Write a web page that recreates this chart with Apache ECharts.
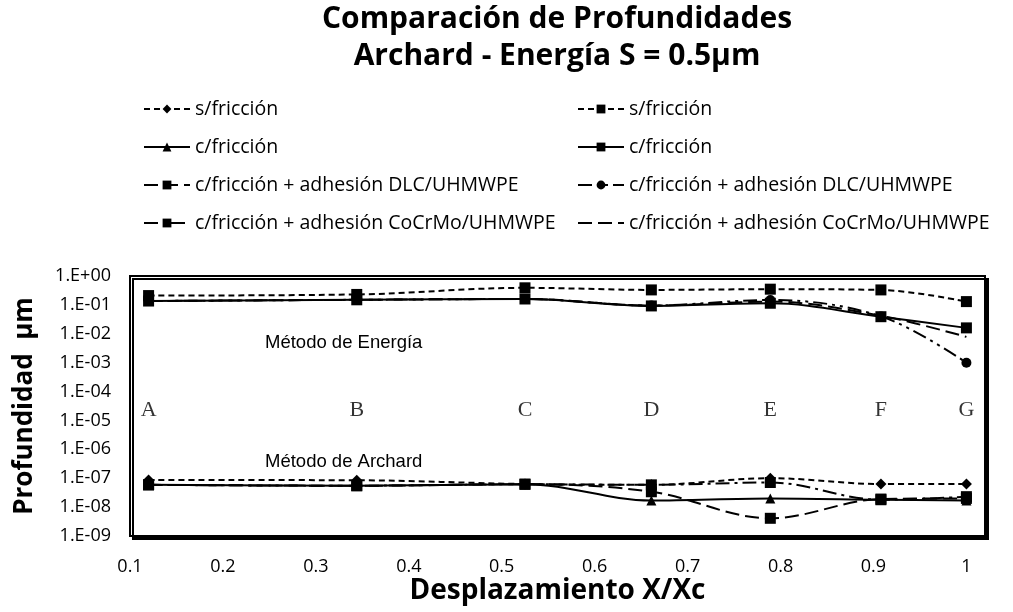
<!DOCTYPE html>
<html>
<head>
<meta charset="utf-8">
<script src="https://cdn.jsdelivr.net/npm/echarts@6/dist/echarts.min.js"></script>
<style>html,body{margin:0;padding:0;background:#fff}#c{width:1013px;height:612px}</style>
</head>
<body>
<div id="c"></div>
<script>
// Positions of the evaluation points along X/Xc
const xPoints = [0.12, 0.344, 0.525, 0.661, 0.789, 0.908, 1.0];
const pointLetters = ['A', 'B', 'C', 'D', 'E', 'F', 'G'];

// Método de Archard (µm)
const archardSinFriccion = [8.7e-8, 8.5e-8, 6.3e-8, 5.9e-8, 1.0e-7, 6.3e-8, 6.3e-8];
const archardConFriccion = [5.9e-8, 5.5e-8, 6.2e-8, 1.7e-8, 2.0e-8, 1.8e-8, 1.7e-8];
const archardDLC = [5.9e-8, 5.5e-8, 6.2e-8, 3.4e-8, 4.1e-9, 1.9e-8, 2.0e-8];
const archardCoCrMo = [5.9e-8, 5.5e-8, 6.2e-8, 5.9e-8, 7.1e-8, 1.8e-8, 2.3e-8];

// Método de Energía (µm)
const energiaSinFriccion = [0.21, 0.23, 0.39, 0.33, 0.35, 0.33, 0.13];
const energiaConFriccion = [0.136, 0.15, 0.16, 0.092, 0.114, 0.039, 0.016];
const energiaDLC = [0.136, 0.15, 0.16, 0.095, 0.148, 0.04, 0.001];
const energiaCoCrMo = [0.136, 0.15, 0.16, 0.095, 0.13, 0.042, 0.0078];

const legendLabels = ['s/fricción', 'c/fricción', 'c/fricción + adhesión DLC/UHMWPE', 'c/fricción + adhesión CoCrMo/UHMWPE'];

const calibri = '"Open Sans", Lato, sans-serif';
const pairs = arr => arr.map((v, i) => [xPoints[i], v]);

function mk(prefix, label, data, dash, symbol, size) {
  const hidden = symbol === 'none';
  return {
    name: prefix + '|' + label,
    type: 'line',
    data: pairs(data),
    smooth: 0.35,
    symbol: hidden ? 'circle' : symbol,
    symbolSize: hidden ? 1 : size,
    showSymbol: !hidden,
    lineStyle: { color: '#000', width: 2, type: dash },
    itemStyle: { color: hidden ? 'rgba(0,0,0,0)' : '#000' },
    z: 3
  };
}

const SHORT = [6, 4], LONG = [14, 6], LDD = [14, 5, 3, 5], LDDD = [14, 5, 3, 5, 3, 5];

const series = [
  mk('A', legendLabels[0], archardSinFriccion, SHORT, 'diamond', 11),
  mk('A', legendLabels[1], archardConFriccion, 'solid', 'triangle', 10),
  mk('A', legendLabels[2], archardDLC, LONG, 'rect', 11),
  mk('A', legendLabels[3], archardCoCrMo, LDD, 'rect', 11),
  mk('E', legendLabels[0], energiaSinFriccion, SHORT, 'rect', 11),
  mk('E', legendLabels[1], energiaConFriccion, 'solid', 'rect', 11),
  mk('E', legendLabels[2], energiaDLC, LDDD, 'circle', 10),
  mk('E', legendLabels[3], energiaCoCrMo, LONG, 'none', 0),
  {
    name: 'puntos', type: 'scatter', symbolSize: 0, silent: true,
    data: xPoints.map((x, i) => ({ value: [x, 2.3e-5], label: { formatter: pointLetters[i] } })),
    label: { show: true, position: 'inside', color: '#000', fontFamily: '"Liberation Serif", serif', fontSize: 22 }
  }
];

const legendCommon = {
  orient: 'vertical', top: 99, padding: 0, itemWidth: 46, itemHeight: 11, itemGap: 18,
  formatter: n => n.split('|')[1],
  textStyle: { fontFamily: calibri, fontSize: 19.5, color: '#000', lineHeight: 20 },
  selectedMode: false
};

const chart = echarts.init(document.getElementById('c'), null, { renderer: 'canvas' });
chart.setOption({
  animation: false,
  backgroundColor: '#fff',
  title: {
    text: 'Comparación de Profundidades\nArchard - Energía S = 0.5μm',
    left: 557, textAlign: 'center', top: 1, padding: 0,
    textStyle: { fontFamily: calibri, fontSize: 30, fontWeight: 'bold', color: '#000', lineHeight: 37 }
  },
  legend: [
    Object.assign({}, legendCommon, { left: 143, data: legendLabels.map(l => 'A|' + l) }),
    Object.assign({}, legendCommon, { left: 577, data: legendLabels.map(l => 'E|' + l) })
  ],
  grid: {
    left: 130, right: 28, top: 276, bottom: 76, show: true, outerBoundsMode: 'none', containLabel: false,
    backgroundColor: '#fff', borderColor: '#000', borderWidth: 2,
    shadowColor: '#000', shadowOffsetX: 3, shadowOffsetY: 3, shadowBlur: 0
  },
  xAxis: {
    type: 'value', min: 0.1, max: 1.02, interval: 0.1,
    name: 'Desplazamiento X/Xc', nameLocation: 'middle', nameGap: 36,
    nameTextStyle: { fontFamily: calibri, fontSize: 28, fontWeight: 'bold', color: '#000' },
    axisLine: { show: false }, axisTick: { show: false }, splitLine: { show: false },
    axisLabel: {
      showMaxLabel: false, margin: 22, color: '#000', fontFamily: calibri, fontSize: 18,
      formatter: v => (v > 1.001 ? '' : String(Math.round(v * 10) / 10))
    }
  },
  yAxis: {
    type: 'log', logBase: 10, min: 1e-9, max: 1,
    name: 'Profundidad  μm', nameLocation: 'middle', nameGap: 92,
    nameTextStyle: { fontFamily: calibri, fontSize: 26, fontWeight: 'bold', color: '#000' },
    axisLine: { show: false }, axisTick: { show: false }, splitLine: { show: false },
    axisLabel: {
      margin: 19, color: '#000', fontFamily: calibri, fontSize: 18,
      formatter: v => {
        const e = Math.round(Math.log10(v));
        const s = e < 0 ? '-' : '+';
        const a = Math.abs(e);
        return '1.E' + s + (a < 10 ? '0' : '') + a;
      }
    }
  },
  graphic: [
    { type: 'text', left: 265, top: 333, style: { text: 'Método de Energía', fill: '#000', font: '18.5px "Liberation Sans", Arial, sans-serif' } },
    { type: 'text', left: 265, top: 452, style: { text: 'Método de Archard', fill: '#000', font: '18.5px "Liberation Sans", Arial, sans-serif' } }
  ],
  series: series
});
</script>
</body>
</html>
